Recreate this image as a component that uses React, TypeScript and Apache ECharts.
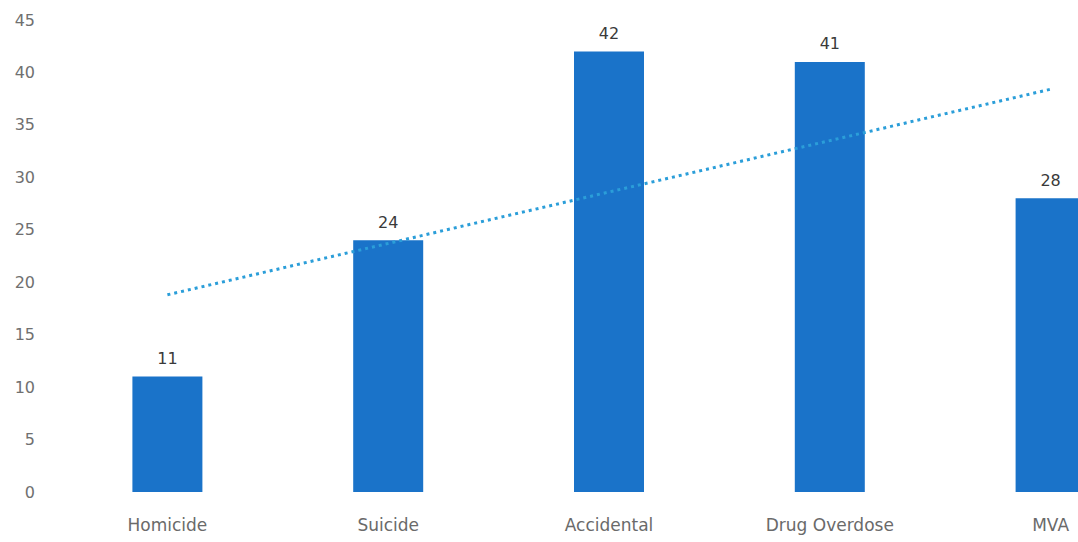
import React, { useEffect, useRef } from "react";
import * as echarts from "echarts";

const categories = ["Homicide", "Suicide", "Accidental", "Drug Overdose", "MVA"];
const counts = [11, 24, 42, 41, 28];
const trendStart = 18.8;
const trendEnd = 38.4;
const yTicks = { min: 0, max: 45, interval: 5 };

export default function App() {
  const ref = useRef<HTMLDivElement>(null);
  useEffect(() => {
    if (!ref.current) return;
    const chart = echarts.init(ref.current, null, { renderer: "svg" });
    const font = "'DejaVu Sans', 'Open Sans', sans-serif";
    chart.setOption({
      animation: false,
      backgroundColor: "#ffffff",
      grid: {
        left: 57,
        right: -83,
        top: 20,
        bottom: 50,
        containLabel: false,
        outerBoundsMode: "none",
      },
      xAxis: {
        type: "category",
        data: categories,
        axisLine: { show: false },
        axisTick: { show: false },
        axisLabel: { color: "#6a6a6a", fontSize: 17, fontFamily: font, margin: 24, interval: 0 },
      },
      yAxis: {
        type: "value",
        min: yTicks.min,
        max: yTicks.max,
        interval: yTicks.interval,
        splitLine: { show: false },
        axisLine: { show: false },
        axisTick: { show: false },
        axisLabel: { color: "#707070", fontSize: 16, fontFamily: font, margin: 22 },
      },
      series: [
        {
          type: "bar",
          data: counts,
          barWidth: 70,
          itemStyle: { color: "#1a73c9" },
          label: {
            show: true,
            position: "top",
            distance: 10,
            color: "#3a3a3a",
            fontSize: 16,
            fontFamily: font,
          },
          z: 2,
        },
        {
          type: "line",
          data: [
            [categories[0], trendStart],
            [categories[categories.length - 1], trendEnd],
          ],
          symbol: "none",
          lineStyle: { color: "#2b9ed9", width: 3, type: [3, 4] },
          z: 3,
        },
      ],
    });
    return () => chart.dispose();
  }, []);
  return (
    <div
      ref={ref}
      style={{ position: "fixed", left: 0, top: 0, width: 1078, height: 542 }}
    />
  );
}
